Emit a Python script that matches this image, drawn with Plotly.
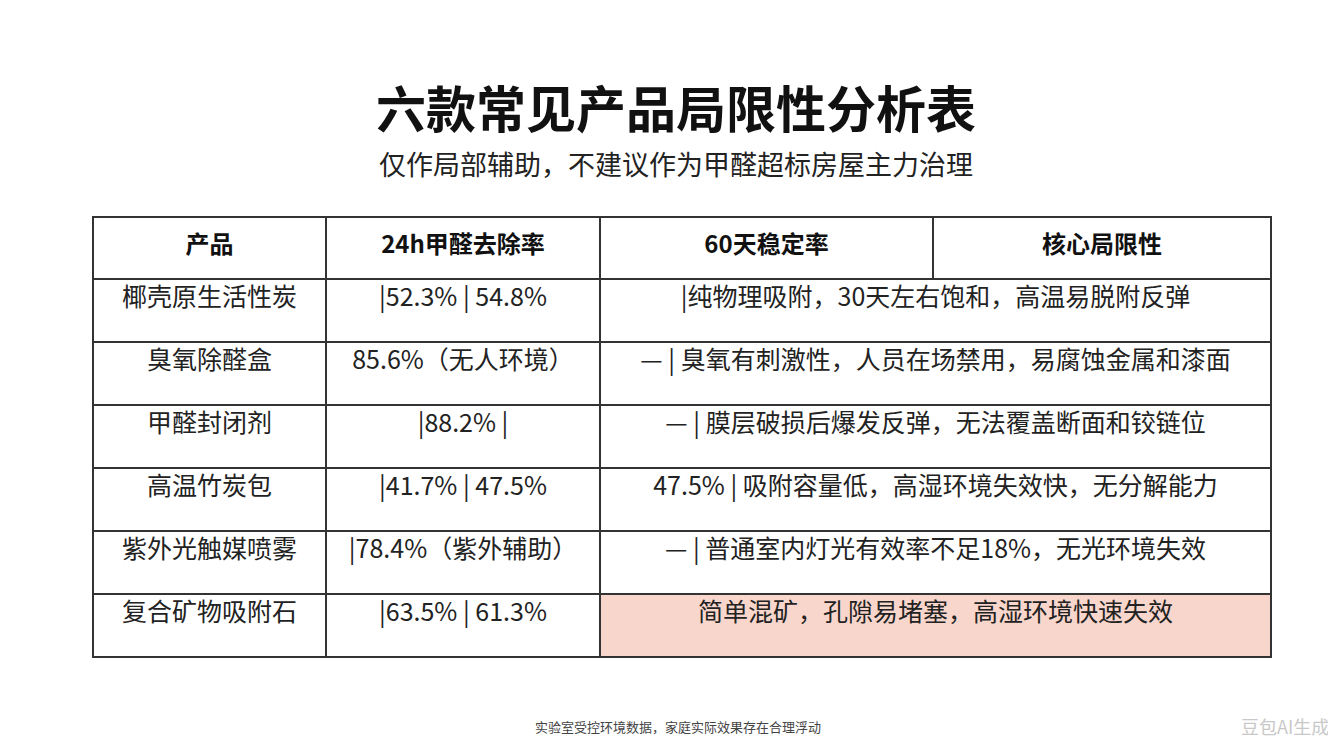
import plotly.graph_objects as go

header = ["产品", "24h甲醛去除率", "60天稳定率", "核心局限性"]
products = ["椰壳原生活性炭", "臭氧除醛盒", "甲醛封闭剂", "高温竹炭包", "紫外光触媒喷雾", "复合矿物吸附石"]
removal = ["|52.3% | 54.8%", "85.6%（无人环境）", "|88.2% |", "|41.7% | 47.5%", "|78.4%（紫外辅助）", "|63.5% | 61.3%"]
limits = [
    "|纯物理吸附，30天左右饱和，高温易脱附反弹",
    "— | 臭氧有刺激性，人员在场禁用，易腐蚀金属和漆面",
    "— | 膜层破损后爆发反弹，无法覆盖断面和铰链位",
    "47.5% | 吸附容量低，高湿环境失效快，无分解能力",
    "— | 普通室内灯光有效率不足18%，无光环境失效",
    "简单混矿，孔隙易堵塞，高湿环境快速失效",
]

W, H = 1336, 751
FONT = "Noto Sans CJK SC"
x0, x1 = 85 / W, 1263 / W
line = dict(color="#333333", width=1.5)
body_font = dict(family=FONT, size=25, color="#222222")

fig = go.Figure()
fig.add_trace(go.Table(
    domain=dict(x=[x0, x1], y=[1 - 290 / H, 1 - 209 / H]),
    columnwidth=[233, 274, 333, 338],
    header=dict(values=[f"<b>{h}</b>" for h in header], height=62, align="center",
                fill_color="white", line=line,
                font=dict(family=FONT, size=24, color="#111111")),
))
# first body row acts as the header of the 3-column body table
fig.add_trace(go.Table(
    domain=dict(x=[x0, x1], y=[1 - 670 / H, 1 - 271 / H]),
    columnwidth=[233, 274, 671],
    header=dict(values=[products[0], removal[0], limits[0]], height=63, align="center",
                fill_color="white", line=line, font=body_font),
    cells=dict(values=[products[1:], removal[1:], limits[1:]], height=63, align="center",
               fill_color=[["white"] * 5, ["white"] * 5, ["white"] * 4 + ["#f9d6cc"]],
               line=line, font=body_font),
))

fig.add_annotation(x=0.5, y=1 - 98 / H, xref="paper", yref="paper", showarrow=False,
                   yanchor="middle", text="<b>六款常见产品局限性分析表</b>",
                   font=dict(family=FONT, size=50, color="#111111"))
fig.add_annotation(x=0.5, y=1 - 156 / H, xref="paper", yref="paper", showarrow=False,
                   yanchor="middle", text="仅作局部辅助，不建议作为甲醛超标房屋主力治理",
                   font=dict(family=FONT, size=27, color="#222222"))
fig.add_annotation(x=670 / W, y=1 - 718 / H, xref="paper", yref="paper", showarrow=False,
                   yanchor="middle", text="实验室受控环境数据，家庭实际效果存在合理浮动",
                   font=dict(family=FONT, size=13, color="#444444"))
fig.add_annotation(x=1323 / W, y=1 - 718 / H, xref="paper", yref="paper", showarrow=False,
                   xanchor="right", yanchor="middle", text="豆包AI生成",
                   font=dict(family=FONT, size=18, color="#c8c8c8"))

fig.update_layout(width=W, height=H, margin=dict(l=0, r=0, t=0, b=0),
                  paper_bgcolor="white", plot_bgcolor="white")
fig.write_html("out.html")
